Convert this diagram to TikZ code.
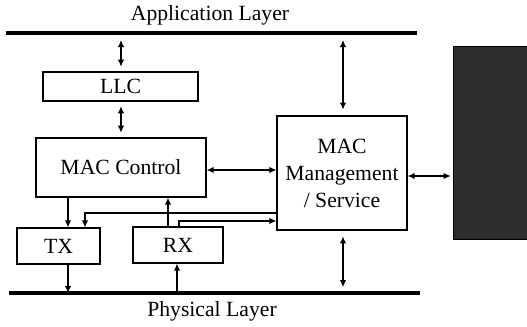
\documentclass[tikz,border=0pt]{standalone}
\usepackage{fontspec}
\setmainfont{Liberation Serif}
\usetikzlibrary{positioning}
\usetikzlibrary{arrows.meta}

\begin{document}
\begin{tikzpicture}[x=0.03cm,y=-0.03cm,>={Latex[length=6pt,width=5.5pt]},
  block/.style={draw,line width=1pt,inner sep=0pt,align=center,font=\fontsize{18.5}{23}\selectfont},
  label/.style={font=\fontsize{18.5}{22}\selectfont},
  layer/.style={line width=2.6pt},
  link/.style={line width=1pt}]
 \useasboundingbox (0,0) rectangle (527,326);
 % layers
 \draw [layer](6,33)--(417,33); 
 \draw [layer](9,293)--(420,293); 
 \node [label] (app) at (210,15) {Application Layer};
 \node [label] (phy) at (212,311) {Physical Layer};
 % blocks
 \node [block,minimum width=4.65cm,minimum height=0.87cm] (llc) at (120.5,86.5) {LLC};
 \node [block,minimum width=5.1cm,minimum height=1.77cm] (ctrl) at (121,167.5) {MAC Control};
 \node [block,minimum width=3.9cm,minimum height=3.42cm] (mgmt) at (342,173) {MAC\\Management\\/ Service};
 \node [block,minimum width=2.49cm,minimum height=1.08cm] (tx) at (58.5,246) {TX};
 \node [block,minimum width=2.7cm,minimum height=1.08cm] (rx) at (178,245) {RX};
 \node [draw,line width=1pt,fill=black!82,minimum width=2.22cm,minimum height=5.79cm,anchor=north west] (side) at (453,46) {};
 % points on the layers
 \coordinate (appA) at (121,33);
 \coordinate (appB) at (343,33);
 \coordinate (phyA) at (68,293);
 \coordinate (phyB) at (177,293);
 \coordinate (phyC) at (343,293);
 % links
 \draw [link,<->,shorten <=6pt,shorten >=4pt](appA)--(llc.north -| appA); 
 \draw [link,<->,shorten <=4pt,shorten >=4pt](llc.south -| appA)--(ctrl.north -| appA); 
 \draw [link,<->](ctrl.east |- 0,170)--(mgmt.west |- 0,170); 
 \draw [link,<->,shorten <=6pt,shorten >=5pt](appB)--(mgmt.north -| appB); 
 \draw [link,<->,shorten <=5pt,shorten >=5pt](mgmt.south -| phyC)--(phyC); 
 \draw [link,<->,shorten >=2pt](mgmt.east |- 0,176)--(side.west |- 0,176); 
 \draw [link,->](ctrl.south -| phyA)--(tx.north -| phyA); 
 \draw [link,->](mgmt.west |- 0,213)--(85,213)--(tx.north -| 85,0); 
 \draw [link,->](rx.north -| 168,0)--(ctrl.south -| 168,0); 
 \draw [link,->](rx.north -| 179,0)--(179,221)--(mgmt.west |- 0,221); 
 \draw [link,->](tx.south -| phyA)--(phyA); 
 \draw [link,->](phyB)--(rx.south -| phyB); 
\end{tikzpicture}
\end{document}
